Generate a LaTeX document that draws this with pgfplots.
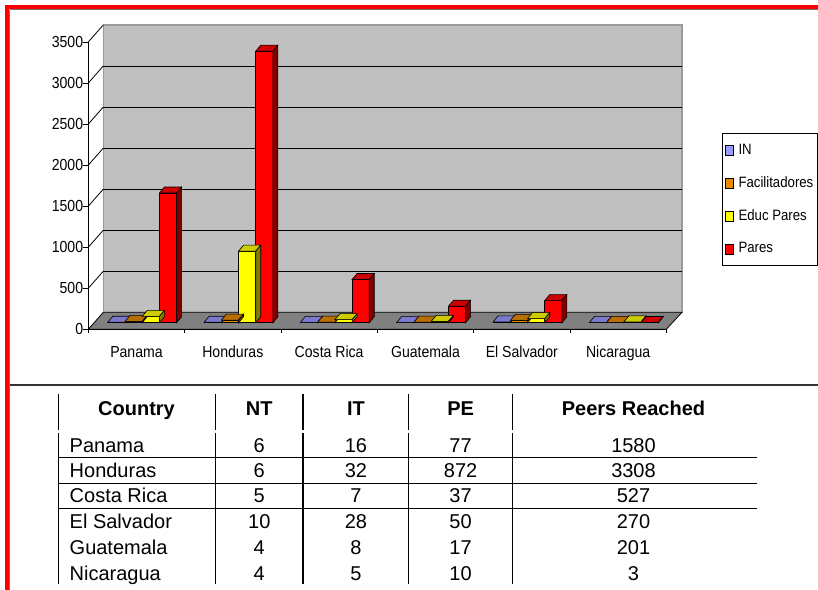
\documentclass[border=0pt]{standalone}
\usepackage{fontspec}
\setmainfont{Liberation Sans}
\newfontfamily\chartfont{Liberation Sans}[FakeStretch=0.88]
\usepackage{pgfplots}
\usepackage{pgfplotstable}
\pgfplotsset{compat=1.18}

\definecolor{inF}{HTML}{9999FF}\definecolor{inT}{HTML}{7A7ACC}\definecolor{inS}{HTML}{4D4D80}
\definecolor{faF}{HTML}{E88A00}\definecolor{faT}{HTML}{B86E00}\definecolor{faS}{HTML}{744500}
\definecolor{edF}{HTML}{FFFF00}\definecolor{edT}{HTML}{CCCC00}\definecolor{edS}{HTML}{808000}
\definecolor{paF}{HTML}{FF0000}\definecolor{paT}{HTML}{CC0000}\definecolor{paS}{HTML}{800000}
\definecolor{wallc}{HTML}{C0C0C0}\definecolor{floorc}{HTML}{808080}\definecolor{walledge}{HTML}{9A9A9A}
\definecolor{frame}{HTML}{FF0000}

\newcommand\cfont{\chartfont\fontsize{16bp}{19bp}\selectfont}
\newcommand\lfont{\chartfont\fontsize{15bp}{18bp}\selectfont}
\newcommand\tfont{\fontsize{20bp}{24bp}\selectfont}

% chart order: Panama, Honduras, Costa Rica, Guatemala, El Salvador, Nicaragua
\pgfplotstableread{
idx IN Fac Educ Pares
0 6 16 77 1580
1 6 32 872 3308
2 5 7 37 527
3 4 8 17 201
4 10 28 50 270
5 4 5 10 3
}\chartdata

% 3D top and side faces of a bar (value in \val, 0.08209 bp per unit)
\newcommand\declbar[3]{%
\pgfdeclareplotmark{bar3d#1}{%
  \pgfmathsetlengthmacro\bh{\val*0.08209bp}%
  \pgfpathmoveto{\pgfpoint{-8.6bp}{0bp}}%
  \pgfpathlineto{\pgfpoint{8.6bp}{0bp}}%
  \pgfpathlineto{\pgfpoint{13.6bp}{6bp}}%
  \pgfpathlineto{\pgfpoint{-3.6bp}{6bp}}%
  \pgfpathclose
  \pgfsetfillcolor{#2}%
  \pgfusepath{fill,stroke}%
  \pgfpathmoveto{\pgfpoint{8.6bp}{0bp}}%
  \pgfpathlineto{\pgfpoint{13.6bp}{6bp}}%
  \pgfpathlineto{\pgfpoint{13.6bp}{6bp-\bh}}%
  \pgfpathlineto{\pgfpoint{8.6bp}{-\bh}}%
  \pgfpathclose
  \pgfsetfillcolor{#3}%
  \pgfusepath{fill,stroke}%
}}
\declbar{IN}{inT}{inS}
\declbar{Fac}{faT}{faS}
\declbar{Educ}{edT}{edS}
\declbar{Pares}{paT}{paS}

\pgfplotsset{
  front/.style={ybar, bar width=17.2bp, bar shift=0pt, draw=black, line width=0.6bp, fill=#1,
    legend image code/.code={\draw[fill=#1, draw=black, line width=0.8bp] (0bp,-5bp) rectangle (7.5bp,5bp);
      \path (11bp,0bp);}},
  depth/.style={scatter, only marks, mark=bar3d#1, forget plot,
    scatter/use mapped color={draw=black}, line width=0.6bp,
    visualization depends on={\thisrow{#1} \as \val}},
}

\begin{document}
\begin{tikzpicture}
\begin{axis}[
  at={(88.3bp,-329.3bp)}, anchor=south west,
  scale only axis, width=593.7bp, height=305.3bp,
  xmin=-0.5595, xmax=5.6036, ymin=-80, ymax=3638.7,
  clip=false,
  axis line style={draw=none},
  xtick={-0.0592,0.9408,1.9408,2.9408,3.9408,4.9408},
  xticklabels={Panama,Honduras,Costa Rica,Guatemala,El Salvador,Nicaragua},
  xtick pos=bottom,
  xtick style={draw=none},
  ytick={-80,420,920,1420,1920,2420,2920,3420},
  yticklabels={0,500,1000,1500,2000,2500,3000,3500},
  ytick pos=left, tick align=outside, major tick length=5bp,
  ytick style={black, line width=0.8bp},
  xticklabel style={font=\cfont, anchor=base, yshift=-22.7bp},
  yticklabel style={font=\cfont, anchor=east, inner sep=0pt},
  legend style={at={(1.0669,0.642)}, anchor=north west, draw=black, line width=1.2bp,
    fill=white, font=\lfont, inner xsep=3bp, inner ysep=9bp, row sep=17.3bp,
    nodes={inner xsep=1.5bp, inner ysep=1bp, text height=10.5bp, text depth=3bp}},
  legend cell align=left,
]
% back wall
\filldraw[fill=wallc, draw=walledge, line width=1.2bp] (axis cs:-0.4038,127) rectangle (axis cs:5.6036,3627);
\draw[black, line width=0.9bp] (axis cs:-0.4038,627) -- (axis cs:5.6036,627);
\draw[black, line width=0.9bp] (axis cs:-0.4038,1127) -- (axis cs:5.6036,1127);
\draw[black, line width=0.9bp] (axis cs:-0.4038,1627) -- (axis cs:5.6036,1627);
\draw[black, line width=0.9bp] (axis cs:-0.4038,2127) -- (axis cs:5.6036,2127);
\draw[black, line width=0.9bp] (axis cs:-0.4038,2627) -- (axis cs:5.6036,2627);
\draw[black, line width=0.9bp] (axis cs:-0.4038,3127) -- (axis cs:5.6036,3127);
% side wall gridlines
\draw[black, line width=0.8bp] (axis cs:-0.5595,420) -- (axis cs:-0.4038,627);
\draw[black, line width=0.8bp] (axis cs:-0.5595,920) -- (axis cs:-0.4038,1127);
\draw[black, line width=0.8bp] (axis cs:-0.5595,1420) -- (axis cs:-0.4038,1627);
\draw[black, line width=0.8bp] (axis cs:-0.5595,1920) -- (axis cs:-0.4038,2127);
\draw[black, line width=0.8bp] (axis cs:-0.5595,2420) -- (axis cs:-0.4038,2627);
\draw[black, line width=0.8bp] (axis cs:-0.5595,2920) -- (axis cs:-0.4038,3127);
\draw[black, line width=0.8bp] (axis cs:-0.5595,3420) -- (axis cs:-0.4038,3627);
% floor
\filldraw[fill=floorc, draw=black, line width=0.8bp] (axis cs:-0.5595,-80) -- (axis cs:5.4405,-80) -- (axis cs:5.6036,127) -- (axis cs:-0.4038,127) -- cycle;
\draw[black, line width=1.2bp] (axis cs:-0.5595,-80) -- (axis cs:5.4405,-80);
\draw[black, line width=1bp] (axis cs:-0.5595,-80) -- (axis cs:-0.5595,3420);
% category boundary ticks
\draw[black, line width=0.8bp] (axis cs:-0.5595,-80) -- ++(0bp,-4bp);
\draw[black, line width=0.8bp] (axis cs:0.4405,-80) -- ++(0bp,-4bp);
\draw[black, line width=0.8bp] (axis cs:1.4405,-80) -- ++(0bp,-4bp);
\draw[black, line width=0.8bp] (axis cs:2.4405,-80) -- ++(0bp,-4bp);
\draw[black, line width=0.8bp] (axis cs:3.4405,-80) -- ++(0bp,-4bp);
\draw[black, line width=0.8bp] (axis cs:4.4405,-80) -- ++(0bp,-4bp);
\draw[black, line width=0.8bp] (axis cs:5.4405,-80) -- ++(0bp,-4bp);

\addplot[depth=IN] table[x expr=\thisrow{idx}-0.2679, y=IN] {\chartdata};
\addplot[front=inF] table[x expr=\thisrow{idx}-0.2679, y=IN] {\chartdata};
\addlegendentry{IN}
\addplot[depth=Fac] table[x expr=\thisrow{idx}-0.0893, y=Fac] {\chartdata};
\addplot[front=faF] table[x expr=\thisrow{idx}-0.0893, y=Fac] {\chartdata};
\addlegendentry{Facilitadores}
\addplot[depth=Educ] table[x expr=\thisrow{idx}+0.0893, y=Educ] {\chartdata};
\addplot[front=edF] table[x expr=\thisrow{idx}+0.0893, y=Educ] {\chartdata};
\addlegendentry{Educ Pares}
\addplot[depth=Pares] table[x expr=\thisrow{idx}+0.2679, y=Pares] {\chartdata};
\addplot[front=paF] table[x expr=\thisrow{idx}+0.2679, y=Pares] {\chartdata};
\addlegendentry{Pares}
\end{axis}

\begin{scope}[x=1bp, y=-1bp]
% frame
\draw[frame, line width=4bp] (7,7) -- (840,7);
\draw[frame, line width=4bp] (7,5) -- (7,600);
\draw[black!55, line width=1bp] (9.5,9.5) -- (840,9.5);
\draw[black!55, line width=1bp] (9.5,9.5) -- (9.5,600);
\draw[black!80, line width=1.5bp] (9.5,385) -- (830,385);
% table lines
\foreach \xx in {58.5,215.7,302.9,408.4,512.8}{
  \draw[black, line width=1.3bp] (\xx,394) -- (\xx,430);
  \draw[black, line width=1.3bp] (\xx,432.7) -- (\xx,584);
}
\foreach \yy in {457.3,483.3,508.3}{
  \draw[black, line width=1.5bp] (58.5,\yy) -- (757,\yy);
}
% header
\node[font=\tfont\bfseries, anchor=base, inner sep=0pt] at (136.5,415.5) {Country};
\node[font=\tfont\bfseries, anchor=base, inner sep=0pt] at (259.3,415.5) {NT};
\node[font=\tfont\bfseries, anchor=base, inner sep=0pt] at (356.0,415.5) {IT};
\node[font=\tfont\bfseries, anchor=base, inner sep=0pt] at (460.6,415.5) {PE};
\node[font=\tfont\bfseries, anchor=base, inner sep=0pt] at (633.5,415.5) {Peers Reached};
% rows
\foreach \yy/\c/\a/\b/\d/\e in {452.7/Panama/6/16/77/1580, 477.2/Honduras/6/32/872/3308,
   502.2/Costa Rica/5/7/37/527, 528.2/El Salvador/10/28/50/270,
   554.2/Guatemala/4/8/17/201, 580.2/Nicaragua/4/5/10/3}{
  \node[font=\tfont, anchor=base west, inner sep=0pt] at (69.5,\yy) {\c};
  \node[font=\tfont, anchor=base, inner sep=0pt] at (259.3,\yy) {\a};
  \node[font=\tfont, anchor=base, inner sep=0pt] at (356.0,\yy) {\b};
  \node[font=\tfont, anchor=base, inner sep=0pt] at (460.6,\yy) {\d};
  \node[font=\tfont, anchor=base, inner sep=0pt] at (633.5,\yy) {\e};
}
\end{scope}
\pgfresetboundingbox
\path[use as bounding box] (0,0) rectangle (818bp,-590bp);
\end{tikzpicture}
\end{document}
